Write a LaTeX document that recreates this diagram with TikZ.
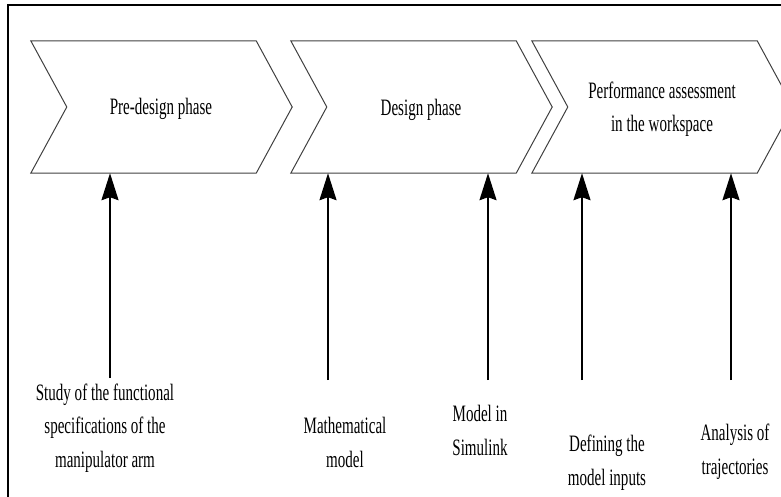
\documentclass[tikz,border=0pt]{standalone}
\usepackage{fontspec}
\setmainfont[FakeStretch=0.64]{Liberation Serif}
\usetikzlibrary{arrows.meta}
\begin{document}
\begin{tikzpicture}[x=1pt,y=-1pt,
  chevbox/.style={inner sep=0pt,minimum width=261pt,minimum height=132pt,draw=none},
  chev/.style={draw=black!75,line width=1pt,line join=miter},
  lbl/.style={font=\fontsize{23.5}{33.5}\selectfont,align=center,inner sep=0pt,anchor=base},
  arr/.style={line width=2pt,-{Stealth[length=27pt,width=17pt,inset=3pt]}},
  frame/.style={line width=1.5pt}]
\useasboundingbox (0,0) rectangle (781,497);
\clip (0,0) rectangle (781,497);
% frame
\draw[frame] (8,497) -- (8,5) -- (781,5);
% chevrons
\node[chevbox] (ch1) at (161.5,107) {};
\node[chevbox] (ch2) at (421.5,107) {};
\node[chevbox] (ch3) at (662.5,107) {};
\foreach \c in {ch1,ch2,ch3}{
  \draw[chev] (\c.north west) -- ([xshift=-36pt]\c.north east) -- (\c.east)
    -- ([xshift=-36pt]\c.south east) -- (\c.south west) -- ([xshift=36pt]\c.west) -- cycle;
}
% labels (anchor=base is the baseline of the last line)
\node[lbl] (t1) at (161,115) {Pre-design phase};
\node[lbl] (t2) at (421,116) {Design phase};
\node[lbl] (t3) at (662,132) {Performance assessment\\in the workspace};
% bottom labels
\node[lbl] (b1) at (105,467) {Study of the functional\\specifications of the\\manipulator arm};
\node[lbl] (b2) at (345,467) {Mathematical\\model};
\node[lbl] (b3) at (480,455) {Model in\\Simulink};
\node[lbl] (b4) at (607,485) {Defining the\\model inputs};
\node[lbl] (b5) at (735,474) {Analysis of\\trajectories};
% arrows
\coordinate (s1) at (110,378);
\coordinate (s2) at (328,380);
\coordinate (s3) at (488,380);
\coordinate (s4) at (582,380);
\coordinate (s5) at (731,380);
\draw[arr] (s1) -- (s1 |- ch1.south);
\draw[arr] (s2) -- (s2 |- ch2.south);
\draw[arr] (s3) -- (s3 |- ch2.south);
\draw[arr] (s4) -- (s4 |- ch3.south);
\draw[arr] (s5) -- (s5 |- ch3.south);
\end{tikzpicture}
\end{document}
